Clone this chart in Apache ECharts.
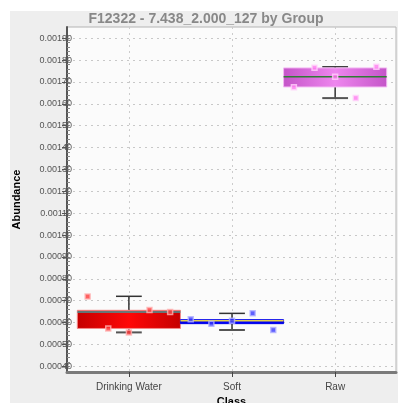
<!DOCTYPE html>
<html>
<head>
<meta charset="utf-8">
<script src="https://cdn.jsdelivr.net/npm/echarts@6/dist/echarts.min.js"></script>
<style>
  html, body { margin: 0; padding: 0; background: #fff; }
  #chart { width: 398px; height: 403px; }
</style>
</head>
<body>
<div id="chart"></div>
<script>
// groups on the x axis
const categories = ["Drinking Water", "Soft", "Raw"];
// box stats per group: [min, q1, median, q3, max]
const boxDrinking = [0.000555, 0.000573, 0.000648, 0.000656, 0.000720];
const boxSoft = [0.000566, 0.000595, 0.000608, 0.000613, 0.000642];
const boxRaw = [0.001626, 0.001677, 0.001724, 0.001764, 0.001769];
// single samples, left to right inside each group
const ptsDrinking = [0.000719, 0.000573, 0.000555, 0.000657, 0.000648];
const ptsSoft = [0.000615, 0.000594, 0.000608, 0.000642, 0.000566];
const ptsRaw = [0.001676, 0.001765, 0.001724, 0.001626, 0.001769];
const jitter = [-0.4, -0.2, 0, 0.2, 0.4];
// y tick labels
const yTicks = [0.0004, 0.0005, 0.0006, 0.0007, 0.0008, 0.0009, 0.0010, 0.0011,
  0.0012, 0.0013, 0.0014, 0.0015, 0.0016, 0.0017, 0.0018, 0.0019];

let chart = echarts.init(document.getElementById("chart"));

const boxColors = [
  { edges: "#c40000", mid: "#ff0808", border: "#f28a8a", median: "#3f9c9c" },
  { edges: "#0000e8", mid: "#0000ff", border: "#0000e8", median: "#e6d24a" },
  { edges: "#c455c8", mid: "#ee86ee", border: "#f3b8f3", median: "#2e7d32" }
];
const ptColors = [
  { fill: "#ff3a3a", border: "#ffb3b3" },
  { fill: "#3a3aff", border: "#b3b3ff" },
  { fill: "#ff7cf0", border: "#ffd2fa" }
];

let boxData = [boxDrinking, boxSoft, boxRaw].map((b, i) => [i + 1].concat(b));
let ptSets = [ptsDrinking, ptsSoft, ptsRaw];

// minor tick positions for the y axis (style only)
let minorTicks = [];
for (let k = 0; k <= 75; k++) minorTicks.push(0.0004 + k * 0.00002);

function renderBox(params, api) {
  let x = api.value(0);
  let vmin = api.value(1), q1 = api.value(2), med = api.value(3), q3 = api.value(4), vmax = api.value(5);
  let c = boxColors[params.dataIndex];
  let tl = api.coord([x - 0.5, q3]);
  let br = api.coord([x + 0.5, q1]);
  let pMin = api.coord([x, vmin]);
  let pMax = api.coord([x, vmax]);
  let pMed = api.coord([x, med]);
  let capL = api.coord([x - 0.125, vmin])[0];
  let capR = api.coord([x + 0.125, vmin])[0];
  let wStyle = { stroke: "#333", lineWidth: 1.5 };
  return {
    type: "group",
    children: [
      { type: "line", shape: { x1: pMax[0], y1: pMax[1], x2: pMax[0], y2: tl[1] }, style: wStyle },
      { type: "line", shape: { x1: pMin[0], y1: br[1], x2: pMin[0], y2: pMin[1] }, style: wStyle },
      { type: "line", shape: { x1: capL, y1: pMax[1], x2: capR, y2: pMax[1] }, style: wStyle },
      { type: "line", shape: { x1: capL, y1: pMin[1], x2: capR, y2: pMin[1] }, style: { stroke: "#555", lineWidth: 2 } },
      {
        type: "rect",
        shape: { x: tl[0], y: tl[1], width: br[0] - tl[0], height: br[1] - tl[1] },
        style: {
          fill: new echarts.graphic.LinearGradient(0, 0, 1, 0, [
            { offset: 0, color: c.edges },
            { offset: 0.5, color: c.mid },
            { offset: 1, color: c.edges }
          ]),
          stroke: c.border,
          lineWidth: 1
        }
      },
      { type: "line", shape: { x1: tl[0], y1: pMed[1], x2: br[0], y2: pMed[1] }, style: { stroke: c.median, lineWidth: 1.5 } }
    ]
  };
}

let option = {
  backgroundColor: "#ffffff",
  animation: false,
  graphic: [
    {
      type: "rect",
      left: 10, top: 11,
      shape: { width: 388, height: 392 },
      style: { fill: "#eeeeee" },
      z: -10
    }
  ],
  title: {
    text: "F12322 - 7.438_2.000_127 by Group",
    left: 206,
    textAlign: "center",
    top: 12,
    padding: 0,
    textStyle: { fontSize: 14, fontWeight: "bold", color: "#888888", fontFamily: "Liberation Sans" }
  },
  grid: {
    left: 67, right: 2, top: 27, bottom: 31,
    outerBoundsMode: "none",
    containLabel: false,
    show: true,
    backgroundColor: "#fbfbfb",
    borderColor: "#b4b4b4",
    borderWidth: 1
  },
  xAxis: {
    type: "value",
    min: 0.4,
    max: 3.59,
    name: "Class",
    nameLocation: "middle",
    nameGap: 21,
    nameTextStyle: { fontSize: 11, fontWeight: "bold", color: "#000", fontFamily: "Liberation Sans" },
    axisLine: { show: true, lineStyle: { color: "#7a7a7a", width: 3 } },
    axisTick: { show: true, customValues: [1, 2, 3], length: 5, lineStyle: { color: "#444" } },
    axisLabel: {
      customValues: [1, 2, 3],
      margin: 10,
      fontSize: 10,
      color: "#444",
      fontFamily: "Liberation Sans",
      formatter: v => categories[Math.round(v) - 1]
    },
    splitLine: { show: true, lineStyle: { color: "#cccccc", type: [2, 4], width: 1 } }
  },
  yAxis: [
    {
      type: "value",
      min: 0.000374,
      max: 0.001951,
      name: "Abundance",
      nameLocation: "middle",
      nameRotate: 90,
      nameGap: 45,
      nameTextStyle: { fontSize: 11, fontWeight: "bold", color: "#000", fontFamily: "Liberation Sans" },
      axisLine: { show: true, lineStyle: { color: "#555", width: 2 } },
      axisTick: { show: true, customValues: yTicks, length: 5, inside: false, lineStyle: { color: "#555" } },
      axisLabel: {
        customValues: yTicks,
        margin: -5,
        fontSize: 9,
        color: "#555",
        fontFamily: "Liberation Sans",
        formatter: v => v.toFixed(5)
      },
      splitLine: { show: true, lineStyle: { color: "#c8c8c8", type: [2, 4], width: 1 } }
    },
    {
      type: "value",
      min: 0.000374,
      max: 0.001951,
      position: "left",
      axisLine: { show: false },
      axisTick: { show: true, customValues: minorTicks, length: 3, inside: true, lineStyle: { color: "#888" } },
      axisLabel: { show: false },
      splitLine: { show: false }
    }
  ],
  series: [
    {
      type: "custom",
      renderItem: renderBox,
      data: boxData,
      encode: { x: 0, y: [1, 2, 3, 4, 5] },
      z: 2
    }
  ].concat(ptSets.map((pts, i) => ({
    type: "scatter",
    symbol: "rect",
    symbolSize: 5,
    data: pts.map((v, j) => [i + 1 + jitter[j], v]),
    itemStyle: { color: ptColors[i].fill, borderColor: ptColors[i].border, borderWidth: 1.5 },
    z: 5
  })))
};

chart.setOption(option);
window.addEventListener("resize", () => {
  chart.resize();
});
</script>
</body>
</html>
